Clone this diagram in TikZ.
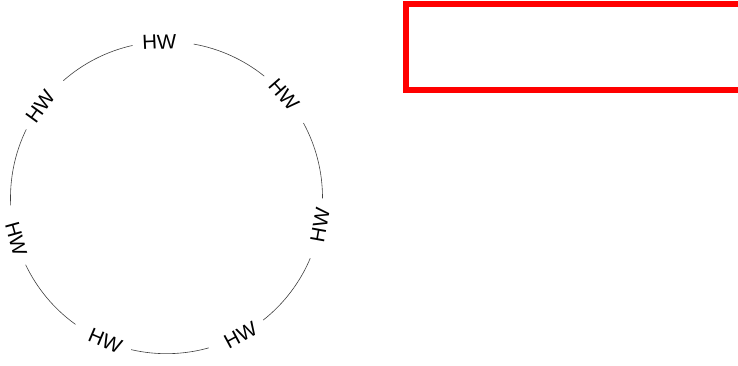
\documentclass[tikz,border=0pt]{standalone}
\usepackage{fontspec}
\setmainfont{Liberation Sans}
\usetikzlibrary{calc}
\begin{document}
\begin{tikzpicture}[x=1pt,y=1pt,
  ring/.style={draw=black!75,line width=0.6pt},
  hwlabel/.style={inner sep=0pt,font=\fontsize{20.5}{20.5}\selectfont},
  redbox/.style={draw=red,line width=6pt,outer sep=0pt,inner sep=0pt}]
\useasboundingbox (0,0) rectangle (738,366);
\coordinate (c) at (166.5,168.3);
\def\R{156}
% arcs between labels
\foreach \k in {0,...,6}{
  \pgfmathsetmacro{\a}{91.3-\k*51.4286+11.3}
  \pgfmathsetmacro{\b}{91.3-(\k-1)*51.4286-11.3}
  \draw[ring] ($(c)+(\a:\R)$) arc[start angle=\a,end angle=\b,radius=\R];
}
% labels
\foreach \k in {0,...,6}{
  \pgfmathsetmacro{\t}{92.6-\k*51.4286}
  \pgfmathsetmacro{\r}{mod(\t+90+720,360)}
  \pgfmathsetmacro{\rr}{(\r>90 && \r<=270) ? \r-180 : \r}
  \node[hwlabel,rotate=\rr] (hw\k) at ($(c)+(\t:\R)$) {HW};
}
\node[redbox,minimum width=380pt,minimum height=86pt,anchor=north west] (box) at (406,361.7) {};
\end{tikzpicture}
\end{document}
